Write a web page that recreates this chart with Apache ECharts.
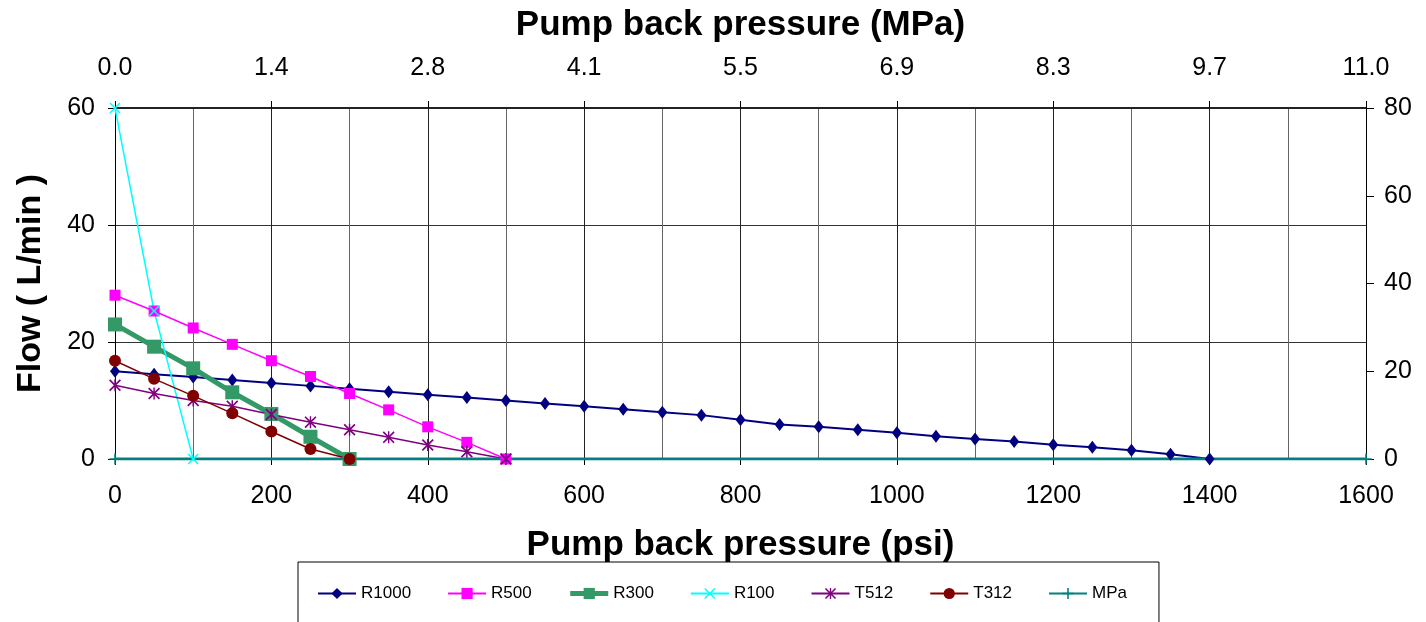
<!DOCTYPE html>
<html>
<head>
<meta charset="utf-8">
<script src="https://cdn.jsdelivr.net/npm/echarts@6/dist/echarts.min.js"></script>
<style>html,body{margin:0;padding:0;background:#fff;}#c{width:1426px;height:622px;}</style>
</head>
<body>
<div id="c"></div>
<script>
// psi pressure points
var psiR1000 = [0,50,100,150,200,250,300,350,400,450,500,550,600,650,700,750,800,850,900,950,1000,1050,1100,1150,1200,1250,1300,1350,1400];
var flowR1000 = [15.0,14.5,14.0,13.5,13.0,12.5,12.0,11.5,11.0,10.5,10.0,9.5,9.0,8.5,8.0,7.5,6.7,5.9,5.5,5.0,4.5,3.9,3.4,3.0,2.45,2.0,1.5,0.8,0];
var psiR500 = [0,50,100,150,200,250,300,350,400,450,500];
var flowR500 = [28.0,25.3,22.4,19.6,16.8,14.1,11.2,8.4,5.5,2.85,0];
var psiR300 = [0,50,100,150,200,250,300];
var flowR300 = [23.0,19.2,15.5,11.4,7.7,3.8,0];
var psiR100 = [0,50,100];
var flowR100 = [60,25.3,0];
var psiT512 = [0,50,100,150,200,250,300,350,400,450,500];
var flowT512 = [12.6,11.2,10.0,9.0,7.6,6.3,5.0,3.7,2.4,1.25,0];
var psiT312 = [0,50,100,150,200,250,300];
var flowT312 = [16.8,13.7,10.8,7.8,4.7,1.7,0];
var psiMPa = [0,1600];
var flowMPa = [0,0];
var mpaTickLabels = ['0.0','1.4','2.8','4.1','5.5','6.9','8.3','9.7','11.0'];

function pairs(xs, ys){ return xs.map(function(x,i){ return [x, ys[i]]; }); }

var FONT = '"Liberation Sans", Arial, sans-serif';
var xPath = 'path://M0,1 L1,0 L5,4 L9,0 L10,1 L6,5 L10,9 L9,10 L5,6 L1,10 L0,9 L4,5Z';
var starPath = 'path://M0,1 L1,0 L5,4 L9,0 L10,1 L6,5 L10,9 L9,10 L5,6 L1,10 L0,9 L4,5Z M4.4,0 L5.6,0 L5.6,10 L4.4,10Z';
var plusPath = 'path://M4.3,0 L5.7,0 L5.7,4.3 L10,4.3 L10,5.7 L5.7,5.7 L5.7,10 L4.3,10 L4.3,5.7 L0,5.7 L0,4.3 L4.3,4.3Z';

var chart = echarts.init(document.getElementById('c'));
chart.setOption({
  animation: false,
  backgroundColor: '#fff',
  textStyle: { fontFamily: FONT },
  grid: { left: 115, right: 60, top: 108, bottom: 163, containLabel: false, outerBoundsMode: 'none' },
  legend: {
    left: 298, top: 562,
    padding: [23, 32, 40, 19],
    borderColor: '#000', borderWidth: 1,
    itemWidth: 38, itemHeight: 14, itemGap: 36,
    textStyle: { fontFamily: FONT, fontSize: 17, color: '#000' },
    data: ['R1000','R500',{ name: 'R300', lineStyle: { width: 5 } },'R100','T512','T312','MPa']
  },
  xAxis: [{
    type: 'value', position: 'bottom', min: 0, max: 1600, interval: 200,
    name: 'Pump back pressure (psi)', nameLocation: 'middle', nameGap: 69,
    nameTextStyle: { fontFamily: FONT, fontSize: 35, fontWeight: 'bold', color: '#000' },
    axisLine: { show: true, onZero: false, lineStyle: { color: '#000', width: 1 } },
    axisTick: { show: true, length: 6, lineStyle: { color: '#000' } },
    axisLabel: { fontFamily: FONT, fontSize: 25, color: '#000', margin: 25,
      formatter: function(v){ return String(v); } },
    splitLine: { show: true, lineStyle: { color: '#222', width: 1 } },
    minorTick: { show: false, splitNumber: 2 },
    minorSplitLine: { show: true, lineStyle: { color: '#666', width: 1 } }
  }, {
    type: 'value', position: 'top', min: 0, max: 1600, interval: 200,
    name: 'Pump back pressure (MPa)', nameLocation: 'middle', nameGap: 65,
    nameTextStyle: { fontFamily: FONT, fontSize: 35, fontWeight: 'bold', color: '#000' },
    axisLine: { show: true, onZero: false, lineStyle: { color: '#222', width: 2 } },
    axisTick: { show: true, length: 7, lineStyle: { color: '#000' } },
    axisLabel: { fontFamily: FONT, fontSize: 25, color: '#000', margin: 27,
      formatter: function(v){ var i = Math.round(v/200); return mpaTickLabels[i] || ''; } },
    splitLine: { show: false }
  }],
  yAxis: [{
    type: 'value', position: 'left', min: 0, max: 60, interval: 20,
    name: 'Flow ( L/min )', nameLocation: 'middle', nameGap: 67,
    nameTextStyle: { fontFamily: FONT, fontSize: 34, fontWeight: 'bold', color: '#000' },
    axisLine: { show: true, onZero: false, lineStyle: { color: '#000', width: 1 } },
    axisTick: { show: true, length: 7, lineStyle: { color: '#000' } },
    axisLabel: { fontFamily: FONT, fontSize: 25, color: '#000', margin: 20 },
    splitLine: { show: true, lineStyle: { color: '#333', width: 1 } }
  }, {
    type: 'value', position: 'right', min: 0, max: 80, interval: 20,
    axisLine: { show: true, onZero: false, lineStyle: { color: '#000', width: 1 } },
    axisTick: { show: true, length: 8, lineStyle: { color: '#000' } },
    axisLabel: { fontFamily: FONT, fontSize: 25, color: '#000', margin: 18 },
    splitLine: { show: false }
  }],
  series: [{
    name: 'R1000', type: 'line', data: pairs(psiR1000, flowR1000),
    color: '#000080', lineStyle: { width: 2, color: '#000080' },
    symbol: 'diamond', symbolSize: [10, 13], itemStyle: { color: '#000080' }
  }, {
    name: 'R500', type: 'line', data: pairs(psiR500, flowR500),
    color: '#ff00ff', lineStyle: { width: 1.5, color: '#ff00ff' },
    symbol: 'rect', symbolSize: 11, itemStyle: { color: '#ff00ff' }
  }, {
    name: 'R300', type: 'line', data: pairs(psiR300, flowR300),
    color: '#339966', lineStyle: { width: 5, color: '#339966' },
    symbol: 'rect', symbolSize: 14, itemStyle: { color: '#339966' }
  }, {
    name: 'R100', type: 'line', data: pairs(psiR100, flowR100),
    color: '#00ffff', lineStyle: { width: 1.5, color: '#00ffff' },
    symbol: xPath, symbolSize: 11, itemStyle: { color: '#00ffff' }
  }, {
    name: 'T512', type: 'line', data: pairs(psiT512, flowT512),
    color: '#800080', lineStyle: { width: 1.5, color: '#800080' },
    symbol: starPath, symbolSize: 12, itemStyle: { color: '#800080' }
  }, {
    name: 'T312', type: 'line', data: pairs(psiT312, flowT312),
    color: '#800000', lineStyle: { width: 1.5, color: '#800000' },
    symbol: 'circle', symbolSize: 12, itemStyle: { color: '#800000' }
  }, {
    name: 'MPa', type: 'line', data: pairs(psiMPa, flowMPa),
    color: '#008080', lineStyle: { width: 3, color: '#008080' },
    symbol: plusPath, symbolSize: 11, itemStyle: { color: '#008080' }
  }]
});
</script>
</body>
</html>
